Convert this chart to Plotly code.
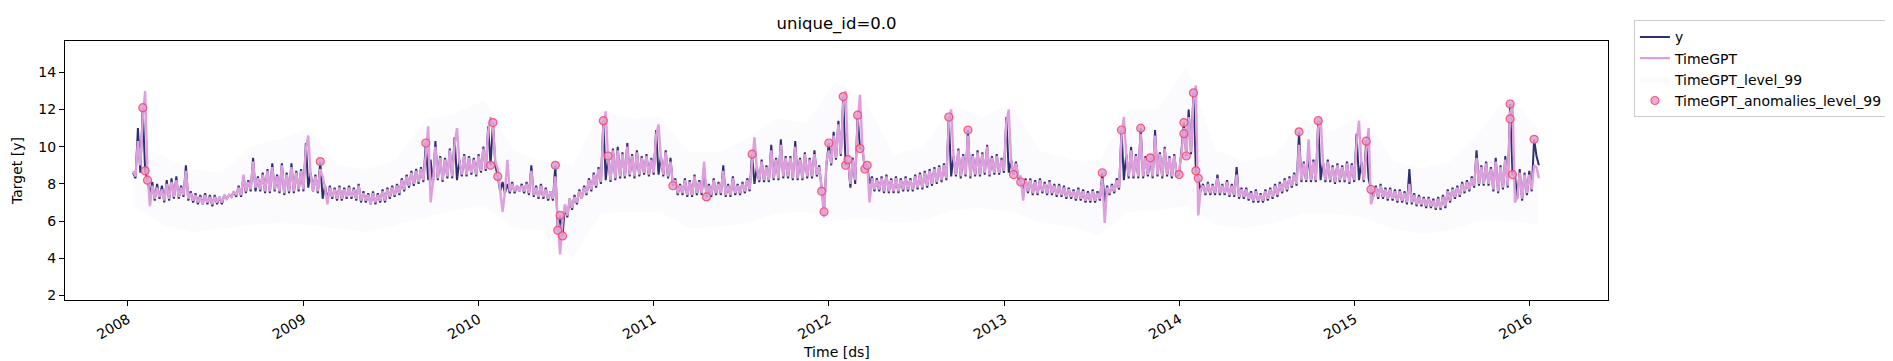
import pandas as pd
import plotly.graph_objects as go

# ---------------- data (5-day samples from 2008-01-12) ----------------
start_date = "2008-01-12"
step = "5D"

y_2008 = [8.6, 8.3, 11.0, 8.6, 12.1, 8.7, 8.2, 7.4, 8.1, 7.1, 8.0, 7.2, 7.9, 7.0, 8.2, 7.1, 8.3, 7.2, 8.4, 7.2,
          7.9, 7.3, 9.0, 7.1, 7.6, 7.0, 7.5, 6.9, 7.4, 6.9, 7.5, 6.9, 7.4, 6.8, 7.4, 6.9, 7.3, 6.9, 7.4, 7.2,
          7.4, 7.3, 7.6, 7.3, 7.9, 7.3, 8.4, 7.5, 8.2, 7.6, 9.4, 7.6, 8.4, 7.6, 8.6, 7.5, 8.8, 7.5, 9.1, 7.6,
          8.5, 7.5, 9.1, 7.4, 8.6, 7.5, 9.1, 7.5, 8.7, 7.6, 8.8, 7.6]
y_2009 = [10.2, 7.8, 8.6, 7.6, 8.5, 7.5, 9.2, 7.2, 7.9, 7.1, 7.9, 7.2, 7.8, 7.1, 7.9, 7.1, 7.8, 7.2, 7.9, 7.2,
          7.8, 7.1, 8.0, 7.0, 7.6, 7.0, 7.5, 6.9, 7.6, 6.9, 7.5, 7.0, 7.7, 7.0, 7.8, 7.2, 7.9, 7.3, 8.0, 7.4,
          8.3, 7.6, 8.5, 7.8, 8.7, 7.9, 8.8, 8.0, 8.9, 8.1, 10.2, 8.2, 9.3, 8.0, 10.3, 8.2, 9.5, 8.1, 9.4, 8.3,
          9.9, 8.3, 10.5, 8.2, 9.3, 8.4, 9.6, 8.4, 9.5, 8.5, 9.4, 8.4]
y_2010 = [9.6, 8.6, 10.0, 8.7, 11.1, 9.0, 11.3, 9.0, 8.4, 7.6, 8.1, 7.5, 8.0, 7.5, 8.1, 7.5, 7.9, 7.6, 8.0, 7.5,
          8.1, 7.4, 9.0, 7.3, 7.9, 7.2, 8.0, 7.2, 7.8, 7.1, 7.6, 7.1, 9.0, 5.5, 6.3, 5.2, 6.8, 6.2, 7.2, 6.6,
          7.4, 6.9, 7.7, 7.2, 7.9, 7.4, 8.3, 7.6, 8.6, 7.8, 8.9, 8.0, 11.4, 8.2, 9.5, 8.1, 9.9, 8.2, 10.0, 8.3,
          9.7, 8.3, 10.2, 8.4, 9.6, 8.3, 9.8, 8.4, 9.5, 8.5, 9.6, 8.4, 9.4, 8.5]
y_2011 = [10.9, 8.5, 9.5, 8.4, 9.8, 8.3, 9.4, 7.9, 8.3, 7.4, 8.0, 7.4, 8.3, 7.3, 8.2, 7.3, 8.5, 7.4, 8.2, 7.4,
          8.9, 7.3, 8.0, 7.3, 8.3, 7.4, 8.1, 7.4, 9.0, 7.3, 8.0, 7.3, 8.4, 7.4, 8.0, 7.4, 8.1, 7.5, 8.3, 7.6,
          9.6, 8.0, 8.9, 8.1, 9.3, 8.1, 9.0, 8.1, 10.1, 8.2, 9.4, 8.2, 10.4, 8.3, 9.5, 8.3, 9.5, 8.2, 10.3, 8.2,
          9.4, 8.2, 9.7, 8.3, 9.4, 8.3, 9.8, 8.4, 9.0, 7.6, 6.5, 9.0]
y_2012 = [10.2, 9.0, 10.8, 9.3, 11.4, 9.5, 12.7, 9.0, 9.3, 7.8, 9.4, 8.0, 11.7, 9.9, 9.9, 8.8, 9.0, 8.0, 8.4, 7.6,
          8.3, 7.6, 8.4, 7.5, 8.5, 7.5, 8.3, 7.5, 8.4, 7.5, 8.3, 7.6, 8.4, 7.6, 8.3, 7.6, 8.5, 7.7, 8.6, 7.7,
          8.7, 7.8, 8.8, 7.9, 8.9, 8.0, 9.0, 8.1, 9.1, 8.2, 11.6, 8.4, 9.5, 8.4, 9.9, 8.3, 9.6, 8.4, 10.9, 8.3,
          9.6, 8.4, 9.8, 8.4, 9.7, 8.5, 10.1, 8.4, 9.5, 8.5, 9.6, 8.5, 9.4, 8.6]
y_2013 = [11.6, 8.6, 9.3, 8.5, 9.2, 8.3, 8.1, 7.5, 8.3, 7.5, 8.3, 7.4, 8.2, 7.4, 8.3, 7.5, 8.1, 7.4, 8.2, 7.4,
          8.0, 7.3, 8.0, 7.3, 7.9, 7.2, 7.8, 7.2, 7.7, 7.1, 7.8, 7.1, 7.7, 7.0, 7.6, 7.0, 7.7, 7.0, 7.6, 7.1,
          8.6, 7.0, 7.9, 7.4, 8.0, 7.5, 8.3, 7.7, 10.9, 8.2, 9.6, 8.3, 10.0, 8.3, 9.6, 8.3, 11.0, 8.3, 9.5, 8.4,
          9.4, 8.3, 10.9, 8.4, 9.7, 8.3, 10.0, 8.4, 9.5, 8.3, 9.6, 8.4, 8.5, 9.8]
y_2014 = [11.3, 9.5, 12.0, 9.6, 12.9, 8.7, 8.3, 7.6, 8.0, 7.4, 8.1, 7.4, 8.0, 7.4, 8.5, 7.4, 8.0, 7.4, 8.2, 7.3,
          8.0, 7.3, 8.9, 7.2, 7.8, 7.2, 7.8, 7.1, 7.6, 7.0, 7.7, 7.0, 7.5, 7.0, 7.7, 7.1, 7.8, 7.2, 8.0, 7.3,
          8.1, 7.5, 8.3, 7.6, 8.4, 7.8, 8.6, 7.9, 10.8, 8.1, 9.2, 8.1, 9.6, 8.1, 9.3, 8.1, 11.4, 8.2, 9.2, 8.1,
          9.3, 8.1, 9.0, 8.0, 9.1, 8.1, 9.0, 8.1, 9.2, 8.0, 9.1, 8.1]
y_2015 = [10.7, 8.2, 9.2, 8.1, 10.3, 8.3, 7.7, 7.3, 7.9, 7.2, 8.0, 7.2, 7.8, 7.1, 7.8, 7.1, 7.7, 7.0, 7.7, 7.0,
          7.6, 6.9, 8.8, 6.9, 7.5, 6.8, 7.4, 6.8, 7.3, 6.7, 7.3, 6.7, 7.2, 6.6, 7.3, 6.6, 7.4, 6.7, 7.7, 7.0,
          7.8, 7.2, 7.9, 7.3, 8.1, 7.5, 8.2, 7.6, 8.4, 7.8, 9.8, 7.9, 9.0, 7.9, 9.2, 7.9, 8.9, 7.6, 9.4, 7.5,
          9.0, 7.7, 9.5, 7.8, 12.3, 8.5, 8.5, 7.2, 8.8, 7.1, 8.6, 7.4, 8.7, 7.6]
y_2016 = [10.4, 9.5, 9.0]

tgpt_2008 = [8.7, 8.4, 10.3, 9.0, 11.5, 13.0, 8.6, 6.8, 7.9, 7.2, 7.8, 7.3, 7.7, 7.1, 8.0, 7.2, 8.1, 7.3, 8.2, 7.3,
             7.8, 7.4, 8.7, 7.2, 7.5, 7.1, 7.4, 7.0, 7.3, 6.9, 7.4, 7.0, 7.3, 6.9, 7.3, 7.0, 7.3, 7.0, 7.4, 7.2,
             7.4, 7.3, 7.6, 7.4, 7.8, 7.4, 8.5, 7.6, 8.1, 7.7, 9.2, 7.8, 8.3, 7.7, 8.5, 7.6, 8.7, 7.6, 8.9, 7.7,
             8.4, 7.6, 9.0, 7.5, 8.5, 7.6, 8.9, 7.6, 8.6, 7.7, 8.7, 7.7]
tgpt_2009 = [9.9, 10.6, 8.5, 7.6, 8.4, 7.6, 8.8, 8.4, 7.8, 6.9, 7.8, 7.3, 7.7, 7.2, 7.8, 7.2, 7.7, 7.3, 7.8, 7.3,
             7.7, 7.2, 7.9, 7.1, 7.5, 7.1, 7.4, 6.9, 7.5, 7.0, 7.4, 7.1, 7.6, 7.1, 7.7, 7.3, 7.8, 7.4, 7.9, 7.5,
             8.2, 7.7, 8.4, 7.9, 8.6, 8.0, 8.7, 8.1, 8.8, 8.2, 9.6, 11.1, 7.0, 8.1, 10.0, 8.3, 9.4, 8.2, 9.3, 8.4,
             9.8, 8.4, 10.1, 11.0, 9.2, 8.5, 9.5, 8.5, 9.4, 8.6, 9.3, 8.5]
tgpt_2010 = [9.5, 8.7, 9.9, 8.8, 10.8, 11.6, 11.0, 9.2, 8.8, 7.7, 6.5, 7.6, 9.3, 7.6, 8.0, 7.6, 7.9, 7.6, 7.9, 7.6,
             8.0, 7.5, 8.7, 7.4, 7.8, 7.3, 7.9, 7.3, 7.7, 7.2, 7.6, 7.2, 8.4, 6.0, 4.2, 6.0, 6.9, 6.3, 7.2, 6.7,
             7.3, 7.0, 7.6, 7.2, 7.8, 7.5, 8.2, 7.7, 8.5, 7.9, 8.8, 8.1, 11.0, 11.9, 9.3, 8.2, 9.8, 8.3, 9.8, 8.4,
             9.6, 8.4, 10.0, 8.5, 9.5, 8.4, 9.7, 8.5, 9.4, 8.6, 9.5, 8.5, 9.3, 8.6]
tgpt_2011 = [10.6, 11.2, 9.4, 8.5, 9.7, 8.4, 9.2, 8.0, 8.2, 7.5, 7.9, 7.5, 8.2, 7.4, 8.1, 7.4, 8.4, 7.5, 8.1, 7.5,
             9.2, 7.4, 7.9, 7.4, 8.2, 7.5, 8.0, 7.5, 8.7, 7.4, 7.9, 7.4, 8.3, 7.5, 7.9, 7.5, 8.0, 7.6, 8.2, 7.7,
             9.3, 10.5, 8.8, 8.2, 9.2, 8.2, 8.9, 8.2, 9.8, 8.3, 9.3, 8.3, 10.1, 8.4, 9.4, 8.4, 9.4, 8.3, 10.0, 8.3,
             9.3, 8.3, 9.6, 8.4, 9.3, 8.4, 9.6, 8.5, 8.9, 7.8, 6.2, 9.2]
tgpt_2012 = [9.8, 9.1, 10.6, 9.4, 11.2, 9.6, 12.3, 13.0, 9.4, 8.0, 9.3, 8.2, 11.3, 12.8, 10.0, 8.9, 9.1, 7.0, 8.3, 7.7,
             8.2, 7.7, 8.3, 7.6, 8.4, 7.6, 8.2, 7.6, 8.3, 7.6, 8.2, 7.7, 8.3, 7.7, 8.2, 7.7, 8.4, 7.8, 8.5, 7.8,
             8.6, 7.9, 8.7, 8.0, 8.8, 8.1, 8.9, 8.2, 9.0, 8.3, 11.2, 12.0, 9.4, 8.5, 9.8, 8.4, 9.5, 8.5, 10.6, 8.4,
             9.5, 8.5, 9.7, 8.5, 9.6, 8.6, 10.0, 8.5, 9.4, 8.6, 9.5, 8.6, 9.3, 8.7]
tgpt_2013 = [11.3, 12.0, 9.2, 8.6, 9.1, 8.4, 8.4, 7.1, 8.2, 7.6, 8.2, 7.5, 8.1, 7.5, 8.2, 7.6, 8.0, 7.5, 8.1, 7.5,
             7.9, 7.4, 7.9, 7.4, 7.8, 7.3, 7.7, 7.3, 7.6, 7.2, 7.7, 7.2, 7.6, 7.1, 7.5, 7.1, 7.6, 7.1, 7.5, 7.2,
             8.3, 5.9, 7.8, 7.5, 7.9, 7.6, 8.2, 7.8, 10.5, 11.6, 9.5, 8.4, 9.8, 8.4, 9.5, 8.4, 10.7, 8.4, 9.4, 8.5,
             9.6, 8.4, 10.6, 8.5, 9.6, 8.4, 9.9, 8.5, 9.4, 8.4, 9.5, 8.5, 8.7, 9.6]
tgpt_2014 = [11.0, 9.6, 11.6, 9.7, 12.5, 13.3, 6.3, 7.7, 7.9, 7.5, 8.0, 7.5, 7.9, 7.5, 8.3, 7.5, 7.9, 7.5, 8.1, 7.4,
             7.9, 7.4, 8.5, 7.3, 7.7, 7.3, 7.7, 7.2, 7.5, 7.1, 7.6, 7.1, 7.4, 7.1, 7.6, 7.2, 7.7, 7.3, 7.9, 7.4,
             8.0, 7.6, 8.2, 7.7, 8.3, 7.9, 8.5, 8.0, 10.1, 8.2, 9.1, 8.2, 10.4, 8.2, 9.2, 8.2, 11.0, 11.6, 9.1, 8.2,
             9.2, 8.2, 8.9, 8.1, 9.0, 8.2, 8.9, 8.2, 9.1, 8.1, 9.0, 8.2]
tgpt_2015 = [10.2, 11.4, 9.1, 8.2, 9.8, 11.0, 6.9, 7.4, 7.8, 7.3, 7.9, 7.3, 7.7, 7.2, 7.7, 7.2, 7.6, 7.1, 7.6, 7.1,
             7.5, 7.0, 8.0, 7.0, 7.4, 6.9, 7.3, 6.9, 7.2, 6.8, 7.2, 6.8, 7.1, 6.7, 7.2, 6.7, 7.3, 6.8, 7.6, 7.1,
             7.7, 7.3, 7.8, 7.4, 8.0, 7.6, 8.1, 7.7, 8.3, 7.9, 9.4, 8.0, 8.9, 8.0, 9.1, 8.0, 8.8, 7.7, 9.2, 7.6,
             8.9, 7.8, 9.3, 7.9, 11.8, 12.3, 7.0, 7.3, 8.6, 7.2, 8.5, 7.5, 8.5, 7.7]
tgpt_2016 = [9.0, 8.9, 8.3]

# 99% interval, sampled every 61 days from the same start
band_step = "61D"
band_lo = [6.8, 5.8, 5.4, 5.6, 5.8, 5.9, 5.8, 5.6, 5.4, 5.8, 6.2, 6.6, 6.8, 5.6, 5.5, 4.0, 6.4, 6.5,
           6.5, 5.6, 5.7, 5.9, 6.4, 6.5, 6.0, 6.2, 5.9, 6.0, 6.6, 6.7, 6.5, 5.9, 5.7, 5.2, 6.5, 6.6,
           6.8, 5.8, 5.6, 5.9, 6.4, 6.4, 6.2, 5.6, 5.3, 5.5, 6.0, 6.0, 5.8]
band_hi = [10.5, 9.5, 8.8, 8.6, 10.0, 10.4, 11.0, 9.0, 8.8, 9.3, 11.5, 11.8, 12.5, 9.8, 9.2, 9.0, 12.0, 11.5,
           11.6, 9.7, 9.7, 10.5, 11.5, 11.3, 13.5, 12.5, 9.6, 10.0, 12.3, 11.6, 12.3, 9.8, 9.3, 9.2, 12.0, 12.0,
           14.3, 9.8, 9.2, 9.6, 11.5, 10.8, 11.8, 9.3, 8.8, 9.2, 10.8, 12.8, 11.0]

anom_dates = ["2008-02-01", "2008-02-06", "2008-02-11", "2009-02-05", "2009-09-13", "2010-01-26",
              "2010-01-31", "2010-02-10", "2010-06-10", "2010-06-15", "2010-06-20", "2010-06-25",
              "2010-09-18", "2010-09-28", "2011-02-10", "2011-04-21", "2011-07-25", "2011-12-17",
              "2011-12-22", "2012-01-01", "2012-01-31", "2012-02-05", "2012-02-10", "2012-03-01",
              "2012-03-06", "2012-03-16", "2012-03-21", "2012-09-07", "2012-10-17", "2013-01-20",
              "2013-02-04", "2013-07-24", "2013-09-02", "2013-10-12", "2013-11-01", "2013-12-31",
              "2014-01-10", "2014-01-10", "2014-01-15", "2014-01-30", "2014-02-04", "2014-02-09",
              "2014-09-07", "2014-10-17", "2015-01-25", "2015-02-04", "2015-11-21", "2015-11-21",
              "2015-11-26", "2016-01-10"]
anom_vals = [12.1, 8.7, 8.2, 9.2, 10.2, 9.0,
             11.3, 8.4, 9.0, 5.5, 6.3, 5.2,
             11.4, 9.5, 7.9, 7.3, 9.6, 7.6,
             6.5, 10.2, 12.7, 9.0, 9.3, 11.7,
             9.9, 8.8, 9.0, 11.6, 10.9, 8.5,
             8.1, 8.6, 10.9, 11.0, 9.4, 8.5,
             11.3, 10.7, 9.5, 12.9, 8.7, 8.3,
             10.8, 11.4, 10.3, 7.7, 12.3, 11.5,
             8.5, 10.4]

year_ticks = ["2008", "2009", "2010", "2011", "2012", "2013", "2014", "2015", "2016"]
y_ticks = [2, 4, 6, 8, 10, 12, 14]

# ---------------- assemble ----------------
y_vals = y_2008 + y_2009 + y_2010 + y_2011 + y_2012 + y_2013 + y_2014 + y_2015 + y_2016
t_vals = (tgpt_2008 + tgpt_2009 + tgpt_2010 + tgpt_2011 + tgpt_2012 + tgpt_2013 + tgpt_2014
          + tgpt_2015 + tgpt_2016)
assert len(y_vals) == len(t_vals), (len(y_vals), len(t_vals))
assert len(band_lo) == len(band_hi)
assert len(anom_dates) == len(anom_vals)

ds = pd.date_range(start_date, periods=len(y_vals), freq=step)
band_ds = pd.date_range(start_date, periods=len(band_lo), freq=band_step)

NAVY = "#2d3070"
PLUM = "#dda0dd"
FONT = "DejaVu Sans"

fig = go.Figure()
fig.add_trace(go.Scatter(x=band_ds, y=band_lo, mode="lines", line=dict(width=0, color="rgba(0,0,0,0)"),
                         showlegend=False, hoverinfo="skip"))
fig.add_trace(go.Scatter(x=band_ds, y=band_hi, mode="lines", line=dict(width=0, color="rgba(0,0,0,0)"),
                         fill="tonexty", fillcolor="rgba(228,228,240,0.16)", name="TimeGPT_level_99",
                         legendrank=3))
fig.add_trace(go.Scatter(x=ds, y=y_vals, mode="lines", line=dict(color=NAVY, width=2), name="y",
                         legendrank=1))
fig.add_trace(go.Scatter(x=ds, y=t_vals, mode="lines", line=dict(color=PLUM, width=2.4), name="TimeGPT",
                         legendrank=2))
fig.add_trace(go.Scatter(x=pd.to_datetime(anom_dates), y=anom_vals, mode="markers",
                         marker=dict(size=8, color="rgba(221,160,221,0.85)",
                                     line=dict(color="rgba(255,60,80,0.8)", width=1.2)),
                         name="TimeGPT_anomalies_level_99", legendrank=4))

fig.update_layout(
    width=1893, height=361,
    margin=dict(l=57, r=290, t=30, b=69),
    paper_bgcolor="white", plot_bgcolor="white",
    font=dict(family=FONT, size=14, color="black"),
    title=dict(text="unique_id=0.0", x=0.5, xref="paper", xanchor="center",
               y=1 - 15 / 361, yref="container", yanchor="middle",
               font=dict(family=FONT, size=16.5, color="black")),
    showlegend=True,
    legend=dict(x=1.0168, y=1.08, xanchor="left", yanchor="top", bgcolor="white",
                bordercolor="#cccccc", borderwidth=1, font=dict(family=FONT, size=14),
                itemwidth=30, tracegroupgap=0, traceorder="normal"),
    annotations=[dict(text="Time [ds]", x=0.5, xref="paper", y=-(345 - 292) / 262, yref="paper",
                      xanchor="center", yanchor="middle", showarrow=False,
                      font=dict(family=FONT, size=14, color="black"))],
)
fig.update_xaxes(
    range=["2007-08-23", "2016-06-12"],
    tickvals=pd.to_datetime([f"{t}-01-01" for t in year_ticks]), ticktext=year_ticks,
    tickangle=-30, ticks="outside", ticklen=5, tickwidth=1, tickcolor="black",
    showline=True, linecolor="black", linewidth=1, mirror=True, showgrid=False, zeroline=False,
    tickfont=dict(family=FONT, size=14), automargin=False,
)
fig.update_yaxes(
    range=[1.75, 15.69], tickvals=y_ticks, ticks="outside", ticklen=5, tickwidth=1, tickcolor="black",
    showline=True, linecolor="black", linewidth=1, mirror=True, showgrid=False, zeroline=False,
    title=dict(text="Target [y]", font=dict(family=FONT, size=14), standoff=12),
    tickfont=dict(family=FONT, size=14), automargin=False,
)

fig.write_html("out.html")
